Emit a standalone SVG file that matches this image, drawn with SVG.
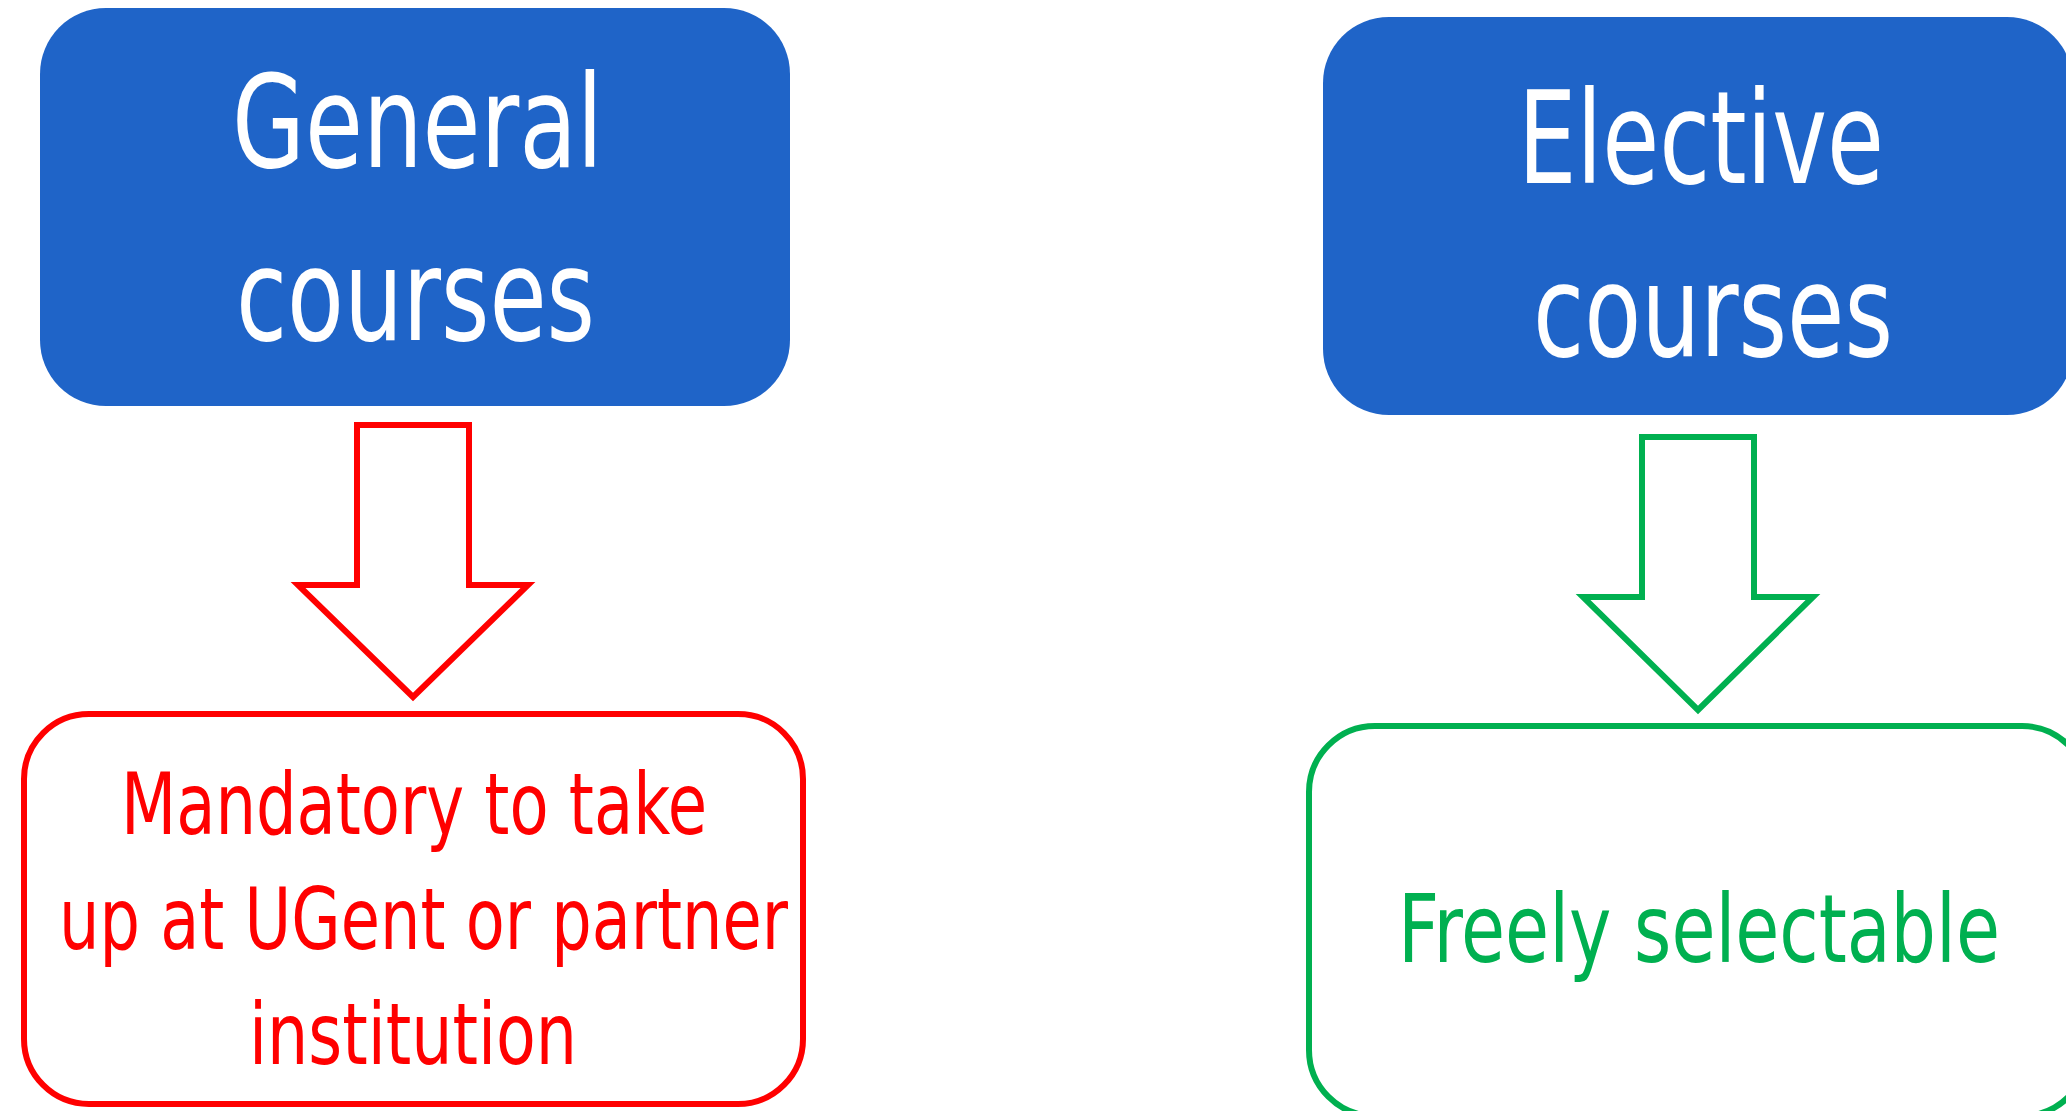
<svg xmlns="http://www.w3.org/2000/svg" width="2066" height="1111" viewBox="0 0 2066 1111">
<style>
.hdr{fill:#1F64C8}
.ht{fill:#FFFFFF;font-family:"Liberation Sans Narrow","DejaVu Sans Condensed","Liberation Sans",sans-serif;font-size:129px}
.red{fill:none;stroke:#FF0000;stroke-width:6}
.grn{fill:none;stroke:#00B050;stroke-width:6}
.rt{fill:#FF0000;font-family:"Liberation Sans Narrow","DejaVu Sans Condensed","Liberation Sans",sans-serif;font-size:86px}
.gt{fill:#00B050;font-family:"Liberation Sans Narrow","DejaVu Sans Condensed","Liberation Sans",sans-serif;font-size:94px}
</style>
<rect width="2066" height="1111" fill="#FFFFFF"/>
<g id="general">
<rect class="hdr" x="40" y="8" width="750" height="398" rx="66" ry="66"/>
<text class="ht" x="232" y="167" textLength="371" lengthAdjust="spacingAndGlyphs">General</text>
<text class="ht" x="236" y="340" textLength="359" lengthAdjust="spacingAndGlyphs">courses</text>
</g>
<g id="elective">
<rect class="hdr" x="1323" y="17" width="750" height="398" rx="66" ry="66"/>
<text class="ht" x="1518" y="183" textLength="366" lengthAdjust="spacingAndGlyphs">Elective</text>
<text class="ht" x="1533" y="356" textLength="360" lengthAdjust="spacingAndGlyphs">courses</text>
</g>
<g id="mandatory">
<rect class="red" x="24" y="714" width="779" height="390" rx="65" ry="65"/>
<text class="rt" x="121" y="834" textLength="586" lengthAdjust="spacingAndGlyphs">Mandatory to take</text>
<text class="rt" x="59" y="949" textLength="729" lengthAdjust="spacingAndGlyphs">up at UGent or partner</text>
<text class="rt" x="249" y="1064" textLength="328" lengthAdjust="spacingAndGlyphs">institution</text>
</g>
<g id="freely">
<rect class="grn" x="1309" y="726" width="779" height="390" rx="66" ry="66"/>
<text class="gt" x="1398" y="962" textLength="602" lengthAdjust="spacingAndGlyphs">Freely selectable</text>
</g>
<g id="connectors">
<polygon class="red" points="357,425 469,425 469,585 528,585 413,697 298,585 357,585"/>
<polygon class="grn" points="1642,437 1754,437 1754,597 1813,597 1698,710 1583,597 1642,597"/>
</g>
</svg>
